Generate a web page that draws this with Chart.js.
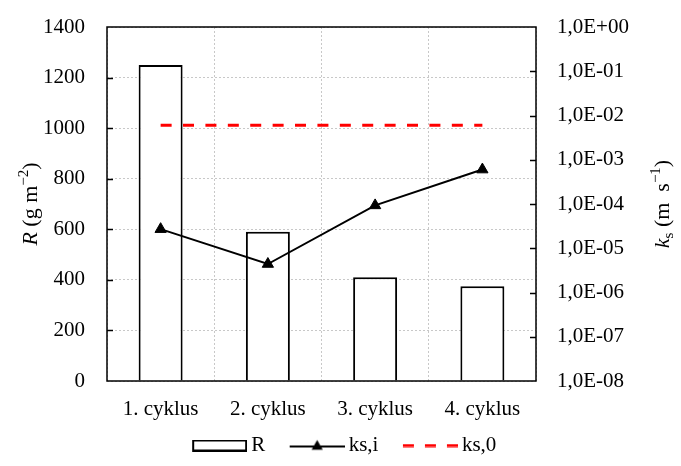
<!DOCTYPE html>
<html>
<head>
<meta charset="utf-8">
<script src="https://cdn.jsdelivr.net/npm/chart.js@4"></script>
<style>
  html, body { margin: 0; padding: 0; background: #fff; }
  canvas { display: block; }
</style>
</head>
<body>
<canvas id="c" width="681" height="466"></canvas>
<script>
// Categories and series
const categories = ['1. cyklus', '2. cyklus', '3. cyklus', '4. cyklus'];
const R = [1250, 590, 410, 375];                 // g m-2
const ksI = [2.7e-5, 4.4e-6, 9.3e-5, 6.0e-4];    // m s-1
const ks0 = [6.0e-3, 6.0e-3, 6.0e-3, 6.0e-3];    // m s-1

// Axis ticks
const rTicks = [0, 200, 400, 600, 800, 1000, 1200, 1400];
const ksTicks = [1e-8, 1e-7, 1e-6, 1e-5, 1e-4, 1e-3, 1e-2, 1e-1, 1e0];
const ksTickLabels = ['1,0E-08', '1,0E-07', '1,0E-06', '1,0E-05', '1,0E-04',
                      '1,0E-03', '1,0E-02', '1,0E-01', '1,0E+00'];

const FONT = "'Liberation Serif', 'Times New Roman', serif";
Chart.defaults.font.family = FONT;
Chart.defaults.font.size = 21;
Chart.defaults.color = '#000';
const tickFont = { family: FONT, size: 21 };

// Legend swatches (transparent lead-in keeps the gap between entries)
const LEAD = 27;
function swatch(h, paint) {
  const c = document.createElement('canvas');
  c.width = LEAD + 55; c.height = h;
  const g = c.getContext('2d');
  g.translate(LEAD, 0);
  paint(g);
  return c;
}
const barSwatch = swatch(12, g => {
  g.fillStyle = '#fff'; g.fillRect(1, 1, 53, 10);
  g.strokeStyle = '#000'; g.lineWidth = 2; g.strokeRect(1, 1, 53, 10);
});
const lineSwatch = swatch(14, g => {
  g.strokeStyle = '#000'; g.lineWidth = 2;
  g.beginPath(); g.moveTo(0, 8); g.lineTo(55, 8); g.stroke();
  g.fillStyle = '#000';
  g.beginPath(); g.moveTo(27.5, 1.5); g.lineTo(21.9, 11.25); g.lineTo(33.1, 11.25); g.closePath(); g.fill();
});
const dashSwatch = swatch(4, g => {
  g.strokeStyle = '#ff0000'; g.lineWidth = 3; g.setLineDash([11, 11]);
  g.beginPath(); g.moveTo(0, 2); g.lineTo(55, 2); g.stroke();
});
const swatches = [barSwatch, lineSwatch, dashSwatch];

// Rotated axis title built from styled pieces
function drawRotated(ctx, x, y, parts) {
  ctx.save();
  ctx.translate(x, y);
  ctx.rotate(-Math.PI / 2);
  ctx.textAlign = 'left';
  ctx.textBaseline = 'alphabetic';
  ctx.fillStyle = '#000';
  let total = 0;
  parts.forEach(p => { ctx.font = p.font; p.w = ctx.measureText(p.t).width; total += p.w; });
  let cx = -total / 2;
  parts.forEach(p => { ctx.font = p.font; ctx.fillText(p.t, cx, p.dy || 0); cx += p.w; });
  ctx.restore();
}
const normal = '22px ' + FONT;
const italic = 'italic 22px ' + FONT;
const small = '15px ' + FONT;
const leftTitle = [
  { t: 'R', font: italic },
  { t: ' (g m', font: normal },
  { t: '\u22122', font: small, dy: -9 },
  { t: ')', font: normal }
];
const rightTitle = [
  { t: 'k', font: italic },
  { t: 's', font: small, dy: 4 },
  { t: ' (m  s', font: normal },
  { t: '\u22121', font: small, dy: -9 },
  { t: ')', font: normal }
];

const frame = {
  id: 'frame',
  afterDraw(chart) {
    const { ctx, chartArea: a, scales } = chart;
    ctx.save();
    ctx.strokeStyle = '#000';
    ctx.lineWidth = 1.5;
    ctx.strokeRect(a.left, a.top, a.right - a.left, a.bottom - a.top);
    ctx.beginPath();
    rTicks.slice(1, -1).forEach(v => {
      const y = Math.round(scales.y.getPixelForValue(v)) + 0.5;
      ctx.moveTo(a.left, y); ctx.lineTo(a.left + 6, y);
    });
    ksTicks.slice(1, -1).forEach(v => {
      const y = Math.round(scales.y2.getPixelForValue(v)) + 0.5;
      ctx.moveTo(a.right - 6, y); ctx.lineTo(a.right, y);
    });
    ctx.stroke();
    const mid = (a.top + a.bottom) / 2;
    drawRotated(ctx, 37, mid, leftTitle);
    drawRotated(ctx, 669, mid, rightTitle);
    ctx.restore();
  }
};

new Chart(document.getElementById('c'), {
  data: {
    labels: categories,
    datasets: [
      {
        type: 'bar', label: 'R', data: R, yAxisID: 'y', order: 3,
        backgroundColor: '#fff', borderColor: '#000', borderWidth: 2,
        categoryPercentage: 1, barPercentage: 0.41
      },
      {
        type: 'line', label: 'ks,i', data: ksI, yAxisID: 'y2', order: 1,
        borderColor: '#000', borderWidth: 2, backgroundColor: '#000',
        pointStyle: 'triangle', pointRadius: 6.5, pointBorderWidth: 1, tension: 0
      },
      {
        type: 'line', label: 'ks,0', data: ks0, yAxisID: 'y2', order: 2,
        borderColor: '#ff0000', borderWidth: 3, borderDash: [11, 11.4],
        pointRadius: 0, tension: 0
      }
    ]
  },
  options: {
    responsive: false,
    animation: false,
    devicePixelRatio: 1,
    layout: { autoPadding: false, padding: { left: 0, right: 13, top: 27, bottom: 0 } },
    plugins: {
      tooltip: { enabled: false },
      legend: {
        position: 'bottom',
        labels: {
          usePointStyle: true,
          pointStyleWidth: LEAD + 42,
          padding: 4,
          color: '#000',
          font: tickFont,
          generateLabels(chart) {
            return chart.data.datasets.map((ds, i) => ({
              text: ds.label, datasetIndex: i, hidden: false,
              pointStyle: swatches[i], fillStyle: '#fff', strokeStyle: '#000', lineWidth: 0
            }));
          }
        }
      }
    },
    scales: {
      x: {
        type: 'category',
        grid: { offset: true, color: '#c8c8c8', lineWidth: 1, drawTicks: false },
        border: { display: false, dash: [2, 2] },
        ticks: { padding: 16, font: tickFont },
        afterFit(s) { s.height = 50; }
      },
      y: {
        type: 'linear', position: 'left', min: 0, max: 1400,
        grid: { color: '#c8c8c8', lineWidth: 1, drawTicks: false },
        border: { display: false, dash: [2, 2] },
        ticks: { padding: 22, font: tickFont, callback: v => String(v) },
        afterBuildTicks(s) { s.ticks = rTicks.map(v => ({ value: v })); },
        afterFit(s) { s.width = 107; s.paddingTop = 0; s.paddingBottom = 0; }
      },
      y2: {
        type: 'logarithmic', position: 'right', min: 1e-8, max: 1,
        grid: { drawOnChartArea: false, drawTicks: false },
        border: { display: false },
        ticks: {
          padding: 21, font: tickFont,
          callback(v) {
            const i = ksTicks.findIndex(t => Math.abs(Math.log10(t) - Math.log10(v)) < 1e-6);
            return i >= 0 ? ksTickLabels[i] : '';
          }
        },
        afterBuildTicks(s) { s.ticks = ksTicks.map(v => ({ value: v })); },
        afterFit(s) { s.width = 132; s.paddingTop = 0; s.paddingBottom = 0; }
      }
    }
  },
  plugins: [frame]
});
</script>
</body>
</html>
